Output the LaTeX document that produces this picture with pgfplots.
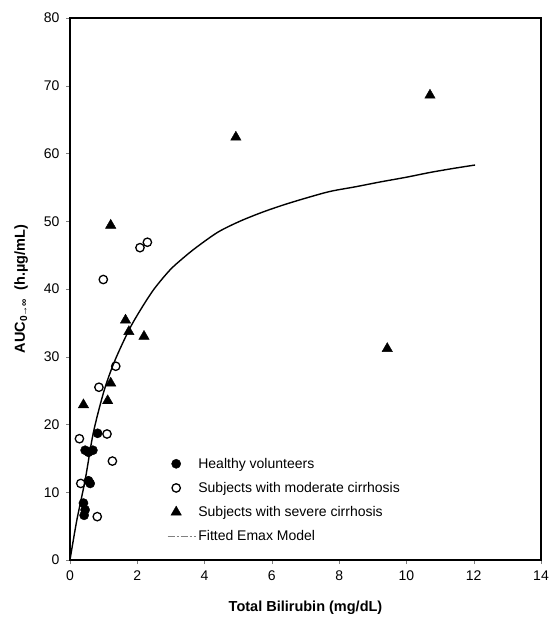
\documentclass[border=0pt]{standalone}
\usepackage{pgfplots}
\pgfplotsset{compat=1.18}
\usepackage{fontspec}
\setmainfont{Liberation Sans}

\begin{document}
\begin{tikzpicture}
\begin{axis}[
    name=ax,
    scale only axis,
    width=471pt, height=542pt,
    xmin=0, xmax=14, ymin=0, ymax=80,
    xtick={0,2,...,14}, ytick={0,10,...,80},
    tick align=outside, xtick pos=left, ytick pos=left,
    major tick length=4pt,
    /pgf/number format/assume math mode=true,
    ticklabel style={font=\fontsize{14}{16}\selectfont},
    xticklabel style={yshift=-3pt},
    yticklabel style={xshift=-3pt},
    xlabel={\textbf{Total Bilirubin (mg/dL)}},
    ylabel={\textbf{AUC\textsubscript{0→∞}~~(h.µg/mL)}},
    label style={font=\fontsize{14.5}{16}\selectfont},
    xlabel style={yshift=-14pt},
    ylabel style={yshift=9pt},
    axis line style={line width=1.2pt},
    legend style={draw=none, fill=none, at={(0.2,0.196)}, anchor=north west,
        font=\fontsize{14}{16}\selectfont, row sep=8.5pt,
        /tikz/every even column/.append style={column sep=4pt}},
    legend cell align=left,
]
\addplot[only marks, mark=*, mark size=4.6pt, black] coordinates {
    (0.82,18.7) (0.45,16.2) (0.55,15.9) (0.68,16.2)
    (0.55,11.7) (0.60,11.3) (0.40,8.4) (0.45,7.4) (0.42,6.6)
};
\addlegendentry{Healthy volunteers}
\addplot[only marks, mark=o, mark size=4.2pt, black, mark options={line width=1.3pt}] coordinates {
    (1.36,28.6) (0.86,25.5) (0.28,17.9) (1.10,18.6) (1.26,14.6)
    (0.32,11.3) (0.81,6.4) (0.99,41.4) (2.08,46.1) (2.30,46.9)
};
\addlegendentry{Subjects with moderate cirrhosis}
\addplot[only marks, mark=triangle*, mark size=6pt, black] coordinates {
    (1.65,35.4) (1.75,33.7) (2.20,33.0) (1.21,49.4) (1.21,26.1)
    (1.12,23.5) (0.40,22.9) (4.93,62.4) (10.70,68.6) (9.43,31.2)
};
\addlegendentry{Subjects with severe cirrhosis}
\addplot[black, line width=1.4pt, smooth,
    legend image code/.code={\draw[gray, line width=0.5pt, dash pattern=on 7pt off 2pt on 2pt off 2pt] (0cm,0cm) -- (1.0cm,0cm);}]
    coordinates {
    (0,0) (0.2,5.8) (0.45,11.8) (0.69,18.7) (0.99,24.6) (1.25,28.4) (1.49,31.2)
    (1.8,34.4) (2.13,37.2) (2.5,40.0) (2.97,42.8) (3.37,44.6) (3.77,46.2)
    (4.4,48.4) (5.05,50.0) (5.7,51.3) (6.34,52.4) (7.0,53.4) (7.73,54.4)
    (8.5,55.1) (9.22,55.8) (10.0,56.5) (10.70,57.2) (11.4,57.8) (12.04,58.3)
};
\addlegendentry{Fitted Emax Model}
\end{axis}
\path (ax.south west) ++(-70pt,-66pt) (ax.north east) ++(10pt,18pt);
\end{tikzpicture}
\end{document}
